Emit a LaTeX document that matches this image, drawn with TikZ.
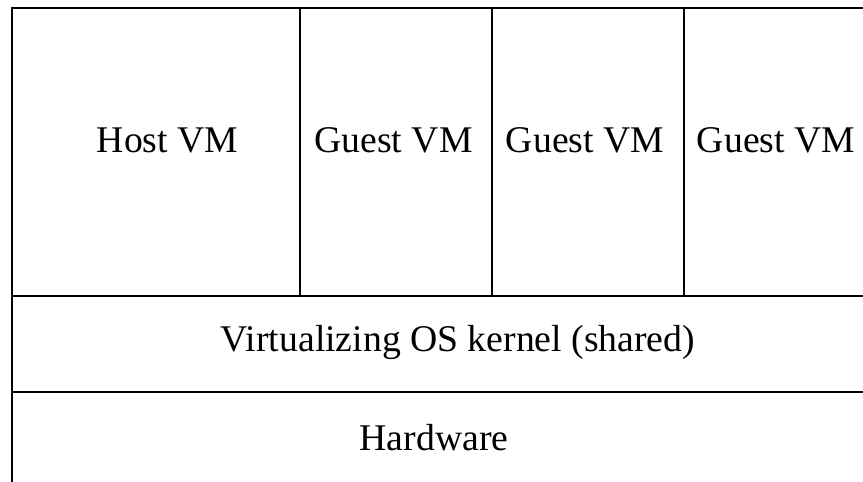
\documentclass[tikz,border=0pt]{standalone}
\usepackage{fontspec}
\setmainfont{Liberation Serif}
\begin{document}
\begin{tikzpicture}[x=1pt,y=-1pt,line width=2.6pt,
  every node/.style={font=\fontsize{37.7}{45}\selectfont, anchor=base, inner sep=0pt, outer sep=0pt}]
\useasboundingbox (0,0) rectangle (863,482);

\draw (12,482) -- (12,8) -- (863,8);
\draw (12,296) -- (863,296);
\draw (12,392) -- (863,392);
\draw (300,8) -- (300,296);
\draw (492,8) -- (492,296);
\draw (684,8) -- (684,296);

\node (host) at (167.5,152) {Host VM};
\node (guesta) at (393.5,152) {Guest VM};
\node (guestb) at (585,152) {Guest VM};
\node (guestc) at (776,152) {Guest VM};
\node (kernel) at (458,351) {Virtualizing OS kernel (shared)};
\node (hw) at (434,450) {Hardware};
\end{tikzpicture}
\end{document}
